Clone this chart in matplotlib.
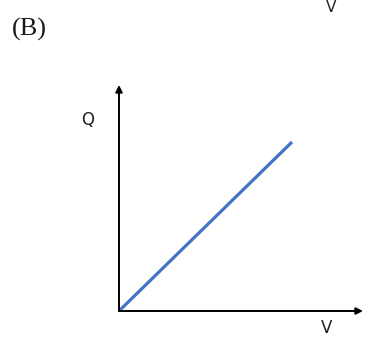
import matplotlib
matplotlib.use("Agg")
import matplotlib.pyplot as plt

# datos: Q proporcional a V
v_vals = [0.0, 1.0]
q_vals = [0.0, 1.0]
x_label = "V"
y_label = "Q"
panel_label = "(B)"

W, H = 370, 338
fig = plt.figure(figsize=(W / 100, H / 100), dpi=100)
fig.patch.set_facecolor("white")

# origen en pixel (119, 311), flechas hasta (363, 311) y (119, 85)
ox, oy = 119, 311
ax = fig.add_axes([ox / W, (H - oy) / H, (363 - ox) / W, (oy - 85) / H])
ax.set_xlim(0, (363 - ox) / (292 - ox))
ax.set_ylim(0, (oy - 85) / (oy - 142))
ax.axis("off")

ax.plot(v_vals, q_vals, color="#4472C4", linewidth=2.3, solid_capstyle="butt", clip_on=False)

# ejes con flecha
arrow = dict(arrowstyle="-|>", color="black", lw=1.4, mutation_scale=10, shrinkA=0, shrinkB=0)
ax.annotate("", xy=(1, 0), xytext=(0, 0), xycoords="axes fraction", arrowprops=arrow)
ax.annotate("", xy=(0, 1), xytext=(0, 0), xycoords="axes fraction", arrowprops=arrow)

fig.text(88 / W, 1 - 120 / H, y_label, fontsize=12, ha="center", va="center", color="#222222")
fig.text(327 / W, 1 - 337 / H, x_label, fontsize=12, ha="center", va="bottom", color="#222222")
fig.text(331 / W, 1 - 0.5 / H, x_label, fontsize=11, ha="center", va="top", color="#222222")
fig.text(12 / W, 1 - 29 / H, panel_label, fontsize=19, family="Liberation Serif",
         ha="left", va="center", color="#1a1a1a")

fig.savefig("out.png", dpi=100)
